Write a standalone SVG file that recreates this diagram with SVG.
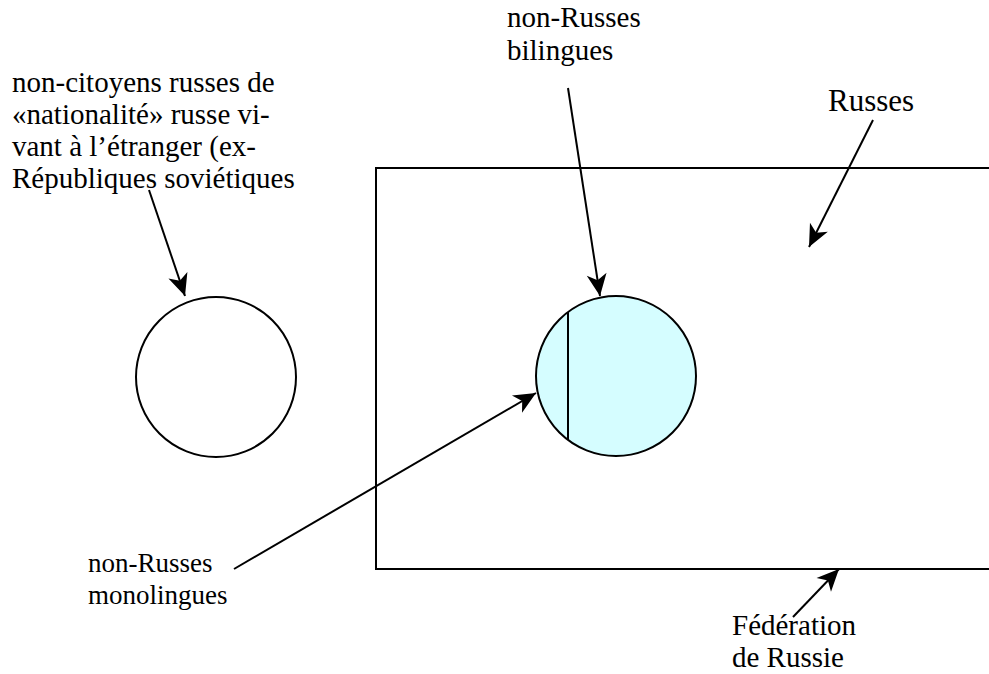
<svg xmlns="http://www.w3.org/2000/svg" width="989" height="674" viewBox="0 0 989 674">
<style>
text{font-family:'Liberation Serif','Times New Roman','DejaVu Serif',serif;font-size:29px;fill:#000}
.shape{stroke:#000;stroke-width:2;fill:none}
.conn{stroke:#000;stroke-width:2;fill:none;marker-end:url(#ah)}
</style>
<defs>
<marker id="ah" markerUnits="userSpaceOnUse" viewBox="-24 -12 26 24" refX="0" refY="0" markerWidth="26" markerHeight="24" orient="auto">
<path d="M0,0 L-22,-10 L-16,0 L-22,10 Z" fill="#000"/>
</marker>
</defs>
<rect width="989" height="674" fill="#fff"/>
<g id="federation">
<path class="shape" d="M995,168 H376 V569 H995"/>
</g>
<g id="etranger">
<circle class="shape" cx="216" cy="377" r="80" fill="#fff"/>
</g>
<g id="non-russes">
<circle class="shape" cx="616" cy="376" r="80" style="fill:#D5FDFF"/>
<line class="shape" x1="568" y1="312" x2="568" y2="440"/>
</g>
<g id="labels" font-family="Liberation Serif, serif">
<text x="12" y="92">non-citoyens russes de</text>
<text x="12" y="124">«nationalité» russe vi-</text>
<text x="12" y="156">vant à l’étranger (ex-</text>
<text x="12" y="188">Républiques soviétiques</text>
<text x="507" y="27">non-Russes</text>
<text x="507" y="60">bilingues</text>
<text x="828" y="111" style="font-size:31px">Russes</text>
<text x="88" y="572" style="font-size:27px">non-Russes</text>
<text x="88" y="604" style="font-size:27px">monolingues</text>
<text x="732" y="635">Fédération</text>
<text x="732" y="667">de Russie</text>
</g>
<g id="connectors">
<line class="conn" x1="149" y1="190" x2="185" y2="296"/>
<line class="conn" x1="568" y1="88" x2="600" y2="296"/>
<line class="conn" x1="234" y1="569" x2="536" y2="393"/>
<line class="conn" x1="873" y1="120" x2="809" y2="247"/>
<line class="conn" x1="793" y1="617" x2="839" y2="569"/>
</g>
</svg>
